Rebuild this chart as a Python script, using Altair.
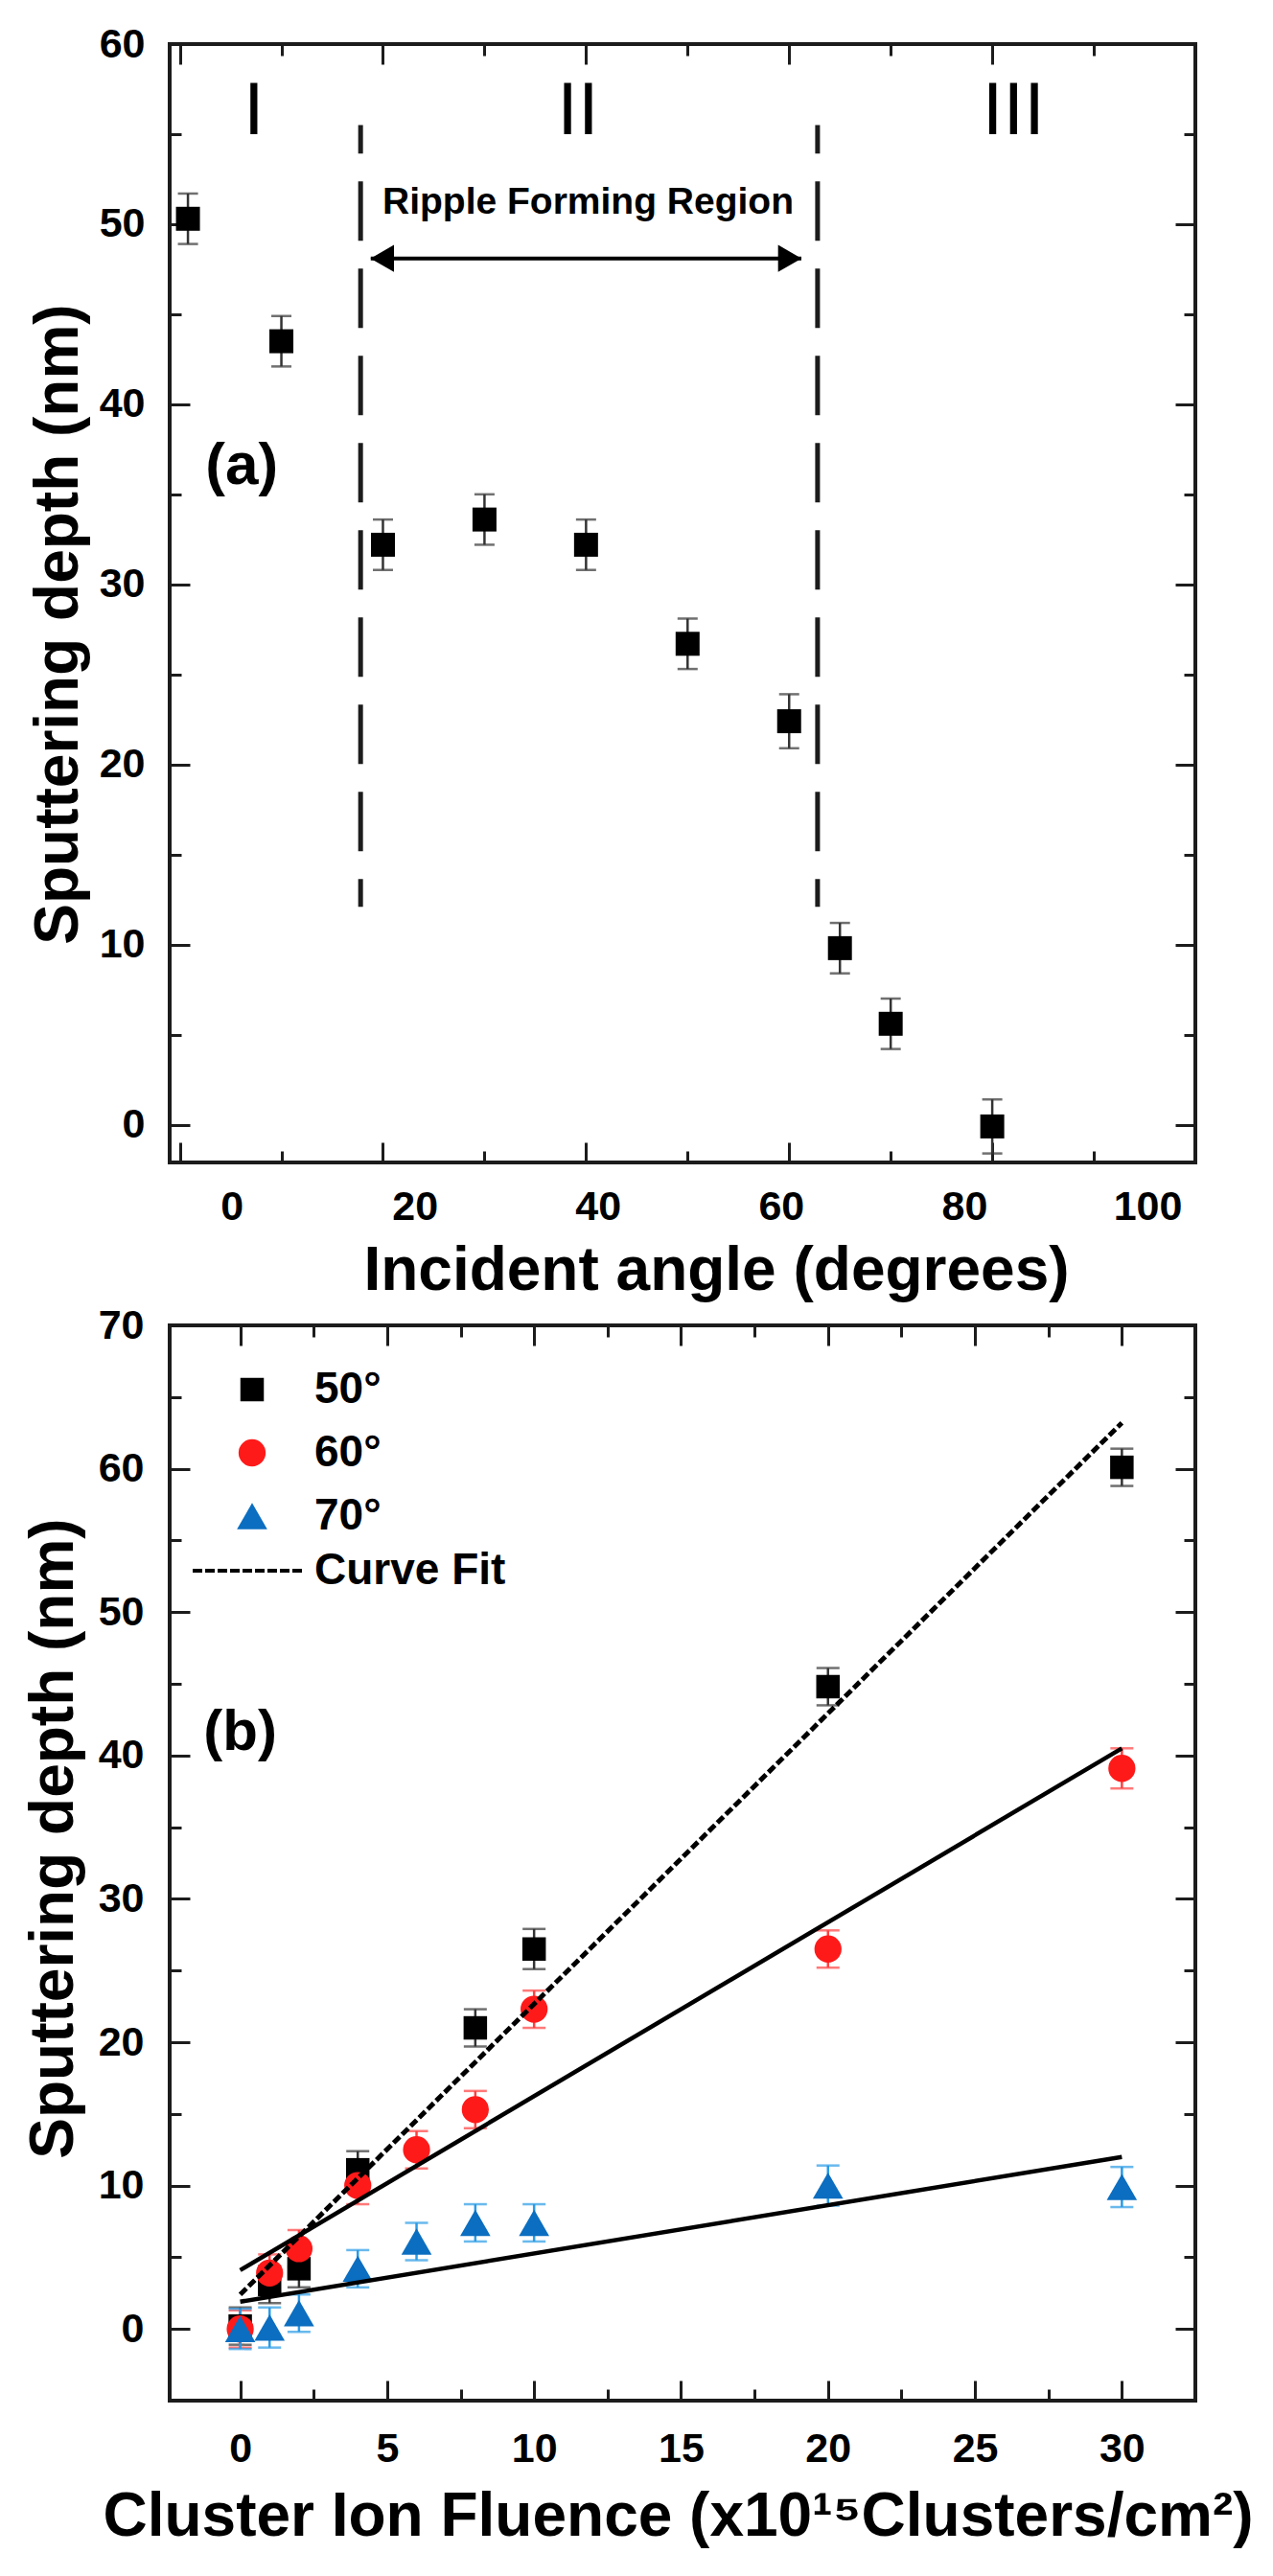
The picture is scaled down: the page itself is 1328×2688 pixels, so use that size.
import altair as alt
import pandas as pd

FONT = "Liberation Sans"
INK = "#1c1c1c"

# ---------------- Panel (a) data ----------------
angle_deg = [0.8, 10, 20, 30, 40, 50, 60, 65, 70, 80]
depth_a = [50.3, 43.5, 32.2, 33.6, 32.2, 26.7, 22.4, 9.8, 5.6, -0.1]
err_a = [1.4, 1.4, 1.4, 1.4, 1.4, 1.4, 1.5, 1.4, 1.4, 1.5]

region_x = [17.8, 62.8]
region_y_low = [12.1, 12.1]
region_y_high = [55.5, 55.5]

numeral_text = ["I", "II", "III"]
numeral_x = [7.3, 39.2, 82.1]
numeral_y = [55.0, 55.0, 55.0]

ripple_text = ["Ripple Forming Region"]
ripple_x = [40.2]
ripple_y = [50.6]

arrow_x_start = [18.8]
arrow_x_end = [61.2]
arrow_y = [48.1]

panel_a_text = ["(a)"]
panel_a_x = [6.1]
panel_a_y = [35.6]

x_ticks_a = [0, 10, 20, 30, 40, 50, 60, 70, 80, 90, 100]
y_ticks_a = [0, 5, 10, 15, 20, 25, 30, 35, 40, 45, 50, 55, 60]

# ---------------- Panel (b) data ----------------
fluence = [0, 1, 2, 4, 6, 8, 10, 20, 30]
series_names = ["50°", "60°", "70°"]
depth_50 = [0.2, 3.1, 4.2, 11.1, None, 21.0, 26.5, 44.8, 60.1]
depth_60 = [0.0, 3.9, 5.6, 10.0, 12.5, 15.3, 22.3, 26.5, 39.1]
depth_70 = [0.0, 0.1, 1.1, 4.2, 6.1, 7.4, 7.4, 10.0, 9.9]
err_50 = [1.3, 1.3, 1.3, 1.3, None, 1.3, 1.4, 1.3, 1.3]
err_60 = [1.3, 1.3, 1.3, 1.3, 1.3, 1.3, 1.3, 1.3, 1.4]
err_70 = [1.4, 1.4, 1.3, 1.3, 1.3, 1.3, 1.3, 1.4, 1.4]

fit_x = [0, 30]
fit_50 = [2.4, 63.2]
fit_60 = [4.1, 40.5]
fit_70 = [1.9, 12.0]
fit_label = "Curve Fit"

panel_b_text = ["(b)"]
panel_b_x = [0.0]
panel_b_y = [40.4]

x_ticks_b = [0, 2.5, 5, 7.5, 10, 12.5, 15, 17.5, 20, 22.5, 25, 27.5, 30]
y_ticks_b = [0, 5, 10, 15, 20, 25, 30, 35, 40, 45, 50, 55, 60, 65, 70]

# ---------------- Styles ----------------
marker_colors = ["#000000", "#ff1a1a", "#0b6ec0"]
err_colors = ["#333333", "#ff4040", "#2a9be6"]
shapes = ["square", "circle", "triangle-up"]
size_range = [600, 1000]

# ---------------- Tables ----------------
df_a = pd.DataFrame({"angle": angle_deg, "depth": depth_a, "err": err_a})
df_a["lo"] = df_a["depth"] - df_a["err"]
df_a["hi"] = df_a["depth"] + df_a["err"]

df_region = pd.DataFrame({"x": region_x, "y0": region_y_low, "y1": region_y_high})
df_num = pd.DataFrame({"x": numeral_x, "y": numeral_y, "t": numeral_text})
df_ripple = pd.DataFrame({"x": ripple_x, "y": ripple_y, "t": ripple_text})
df_arrow = pd.DataFrame({"x0": arrow_x_start, "x1": arrow_x_end, "y": arrow_y})
df_la = pd.DataFrame({"x": panel_a_x, "y": panel_a_y, "t": panel_a_text})

rows = []
for name, dep, err in zip(series_names, [depth_50, depth_60, depth_70], [err_50, err_60, err_70]):
    for f, d, e in zip(fluence, dep, err):
        if d is None:
            continue
        rows.append({"fluence": f, "depth": d, "lo": d - e, "hi": d + e, "series": name})
df_b = pd.DataFrame(rows)

fit_rows = []
for name, fy in zip(series_names, [fit_50, fit_60, fit_70]):
    for fx, v in zip(fit_x, fy):
        fit_rows.append({"fx": fx, "fy": v, "fit": name, "label": fit_label})
df_fit = pd.DataFrame(fit_rows)
df_lb = pd.DataFrame({"x": panel_b_x, "y": panel_b_y, "t": panel_b_text})

# ---------------- Scales ----------------
xs_a = alt.Scale(domain=[-1, 100], nice=False, zero=False)
ys_a = alt.Scale(domain=[-2.1, 60], nice=False, zero=False)
xs_b = alt.Scale(domain=[-2.4, 32.5], nice=False, zero=False)
ys_b = alt.Scale(domain=[-5, 70], nice=False, zero=False)


def tick_common(values, major_step):
    test = f"datum.value % {major_step} === 0"
    return dict(
        values=values,
        tickSize={"expr": f"{test} ? -21 : -12"},
        tickWidth=3,
        tickColor=INK,
        domain=False,
        grid=False,
    ), test


def label_axis(orient, values, major_step, title, pad, title_x, title_y, extra=None):
    common, test = tick_common(values, major_step)
    kw = dict(
        orient=orient,
        labelExpr=f"{test} ? datum.label : ''",
        labelPadding=pad,
        labelFont=FONT,
        labelFontSize=43,
        labelFontWeight="bold",
        labelColor="black",
        labelFlush=False,
        labelOverlap=False,
        title=title,
        titleFont=FONT,
        titleFontSize=64,
        titleFontWeight="bold",
        titleColor="black",
        titleX=title_x,
        titleY=title_y,
        titleBaseline="alphabetic",
        titleAlign="center",
        **common,
    )
    if orient in ("left", "right"):
        kw["titleAngle"] = 270
    if extra:
        kw.update(extra)
    return alt.Axis(**kw)


def mirror_axis(orient, values, major_step):
    common, _ = tick_common(values, major_step)
    return alt.Axis(orient=orient, labels=False, title=None, **common)


# ---------------- Panel (a) ----------------
ax_a_bottom = label_axis("bottom", x_ticks_a, 20, "Incident angle (degrees)", 46, 570, 132,
                         extra={"labelOffset": {"expr": "54 - 1.04 * datum.value"}})
ax_a_left = label_axis("left", y_ticks_a, 10, "Sputtering depth (nm)", 47, -97, 605)

axes_a = alt.Chart(df_a).mark_point(opacity=0).encode(
    x=alt.X("angle:Q", scale=xs_a, axis=ax_a_bottom),
    y=alt.Y("depth:Q", scale=ys_a, axis=ax_a_left),
)
mirror_a = alt.Chart(df_a).mark_point(opacity=0).encode(
    x=alt.X("angle:Q", scale=xs_a, axis=mirror_axis("top", x_ticks_a, 20)),
    y=alt.Y("depth:Q", scale=ys_a, axis=mirror_axis("right", y_ticks_a, 10)),
)

region_lines = alt.Chart(df_region).mark_rule(
    strokeDash=[62, 29], strokeDashOffset=33, strokeWidth=5, color=INK
).encode(
    x=alt.X("x:Q", scale=xs_a, axis=None),
    y=alt.Y("y0:Q", scale=ys_a, axis=None),
    y2="y1:Q",
)

arrow_line = alt.Chart(df_arrow).mark_rule(strokeWidth=4, color="black").encode(
    x=alt.X("x0:Q", scale=xs_a, axis=None),
    x2="x1:Q",
    y=alt.Y("y:Q", scale=ys_a, axis=None),
)
arrow_left = alt.Chart(df_arrow).mark_point(
    shape="triangle-left", filled=True, size=800, color="black", opacity=1, xOffset=12
).encode(
    x=alt.X("x0:Q", scale=xs_a, axis=None),
    y=alt.Y("y:Q", scale=ys_a, axis=None),
)
arrow_right = alt.Chart(df_arrow).mark_point(
    shape="triangle-right", filled=True, size=800, color="black", opacity=1, xOffset=-12
).encode(
    x=alt.X("x1:Q", scale=xs_a, axis=None),
    y=alt.Y("y:Q", scale=ys_a, axis=None),
)

err_rule_a = alt.Chart(df_a).mark_rule(strokeWidth=2.5, color="#333333").encode(
    x=alt.X("angle:Q", scale=xs_a, axis=None),
    y=alt.Y("lo:Q", scale=ys_a, axis=None),
    y2="hi:Q",
)
cap_lo_a = alt.Chart(df_a).mark_tick(orient="horizontal", size=21, thickness=2.5, color="#333333").encode(
    x=alt.X("angle:Q", scale=xs_a, axis=None),
    y=alt.Y("lo:Q", scale=ys_a, axis=None),
)
cap_hi_a = alt.Chart(df_a).mark_tick(orient="horizontal", size=21, thickness=2.5, color="#333333").encode(
    x=alt.X("angle:Q", scale=xs_a, axis=None),
    y=alt.Y("hi:Q", scale=ys_a, axis=None),
)
points_a = alt.Chart(df_a).mark_point(
    shape="square", filled=True, size=625, color="black", opacity=1
).encode(
    x=alt.X("angle:Q", scale=xs_a, axis=None),
    y=alt.Y("depth:Q", scale=ys_a, axis=None),
)

numerals = alt.Chart(df_num).mark_text(
    font=FONT, fontSize=78, fontWeight="normal", align="center", baseline="alphabetic", color="black"
).encode(
    x=alt.X("x:Q", scale=xs_a, axis=None),
    y=alt.Y("y:Q", scale=ys_a, axis=None),
    text="t:N",
)
ripple = alt.Chart(df_ripple).mark_text(
    font=FONT, fontSize=39, fontWeight="bold", align="center", baseline="alphabetic", color="black"
).encode(
    x=alt.X("x:Q", scale=xs_a, axis=None),
    y=alt.Y("y:Q", scale=ys_a, axis=None),
    text="t:N",
)
label_a = alt.Chart(df_la).mark_text(
    font=FONT, fontSize=62, fontWeight="bold", align="center", baseline="alphabetic", color="black"
).encode(
    x=alt.X("x:Q", scale=xs_a, axis=None),
    y=alt.Y("y:Q", scale=ys_a, axis=None),
    text="t:N",
)

panel_a = alt.layer(
    axes_a, mirror_a, region_lines, arrow_line, arrow_left, arrow_right,
    err_rule_a, cap_lo_a, cap_hi_a, points_a, numerals, ripple, label_a,
).resolve_axis(x="independent", y="independent").properties(width=1070, height=1167)

# ---------------- Panel (b) ----------------
ax_b_bottom = label_axis("bottom", x_ticks_b, 5,
                         "Cluster Ion Fluence (x10\u00b9\u2075Clusters/cm\u00b2)", 50, 530, 140)
ax_b_left = label_axis("left", y_ticks_b, 10, "Sputtering depth (nm)", 48, -102, 535)

axes_b = alt.Chart(df_b).mark_point(opacity=0).encode(
    x=alt.X("fluence:Q", scale=xs_b, axis=ax_b_bottom),
    y=alt.Y("depth:Q", scale=ys_b, axis=ax_b_left),
)
mirror_b = alt.Chart(df_b).mark_point(opacity=0).encode(
    x=alt.X("fluence:Q", scale=xs_b, axis=mirror_axis("top", x_ticks_b, 5)),
    y=alt.Y("depth:Q", scale=ys_b, axis=mirror_axis("right", y_ticks_b, 10)),
)

err_layers = []
for name, col in zip(series_names, err_colors):
    base = alt.Chart(df_b).transform_filter(alt.datum.series == name)
    err_layers.append(base.mark_rule(strokeWidth=2.5, color=col).encode(
        x=alt.X("fluence:Q", scale=xs_b, axis=None),
        y=alt.Y("lo:Q", scale=ys_b, axis=None),
        y2="hi:Q",
    ))
    err_layers.append(base.mark_tick(orient="horizontal", size=24, thickness=2.5, color=col).encode(
        x=alt.X("fluence:Q", scale=xs_b, axis=None),
        y=alt.Y("lo:Q", scale=ys_b, axis=None),
    ))
    err_layers.append(base.mark_tick(orient="horizontal", size=24, thickness=2.5, color=col).encode(
        x=alt.X("fluence:Q", scale=xs_b, axis=None),
        y=alt.Y("hi:Q", scale=ys_b, axis=None),
    ))

sym_legend = alt.Legend(
    orient="none", legendX=63, legendY=44, title=None, padding=0,
    labelFont=FONT, labelFontSize=46, labelFontWeight="bold", labelColor="black",
    labelOffset=42, symbolStrokeWidth=0, rowPadding=20, labelLimit=500,
)
points_b = alt.Chart(df_b).mark_point(filled=True, opacity=1, strokeWidth=0).encode(
    x=alt.X("fluence:Q", scale=xs_b, axis=None),
    y=alt.Y("depth:Q", scale=ys_b, axis=None),
    color=alt.Color("series:N", scale=alt.Scale(domain=series_names, range=marker_colors), legend=sym_legend),
    shape=alt.Shape("series:N", scale=alt.Scale(domain=series_names, range=shapes), legend=sym_legend),
    size=alt.Size("series:N", scale=alt.Scale(domain=series_names, range=size_range), legend=sym_legend),
)

fit_dashed = alt.Chart(df_fit[df_fit["fit"] == series_names[0]]).mark_line(
    strokeDash=[9, 3.5], strokeWidth=5, color="black"
).encode(
    x=alt.X("fx:Q", scale=xs_b, axis=None),
    y=alt.Y("fy:Q", scale=ys_b, axis=None),
)
fit_legend = alt.Legend(
    orient="none", legendX=22, legendY=197, title=None, padding=0,
    labelFont=FONT, labelFontSize=46, labelFontWeight="bold", labelColor="black",
    labelOffset=11, labelLimit=500, symbolType="stroke", symbolSize=12996, symbolStrokeWidth=4,
    symbolStrokeColor="black", symbolDash=[10, 3],
)
fit_solid = alt.Chart(df_fit[df_fit["fit"] != series_names[0]]).mark_line(strokeWidth=4.5).encode(
    x=alt.X("fx:Q", scale=xs_b, axis=None),
    y=alt.Y("fy:Q", scale=ys_b, axis=None),
    detail="fit:N",
    stroke=alt.Stroke("label:N", scale=alt.Scale(domain=[fit_label], range=["black"]), legend=fit_legend),
)

label_b = alt.Chart(df_lb).mark_text(
    font=FONT, fontSize=60, fontWeight="bold", align="center", baseline="alphabetic", color="black"
).encode(
    x=alt.X("x:Q", scale=xs_b, axis=None),
    y=alt.Y("y:Q", scale=ys_b, axis=None),
    text="t:N",
)

panel_b = alt.layer(
    axes_b, mirror_b, *err_layers, points_b, fit_dashed, fit_solid, label_b,
).resolve_axis(x="independent", y="independent").properties(width=1070, height=1122)

chart = alt.vconcat(panel_a, panel_b, spacing=0).resolve_scale(
    color="independent", shape="independent", size="independent", stroke="independent",
).properties(
    padding={"left": 13, "top": 15, "right": 5, "bottom": 5},
    background="white",
).configure_view(stroke=INK, strokeWidth=4).configure_legend(
    orient="none", legendX=63, legendY=44, padding=0,
    labelFont=FONT, labelFontSize=46, labelFontWeight="bold", labelColor="black",
    labelOffset=42, rowPadding=20, labelLimit=500,
)

chart.save("out.html", embed_options={"renderer": "svg", "actions": False})
